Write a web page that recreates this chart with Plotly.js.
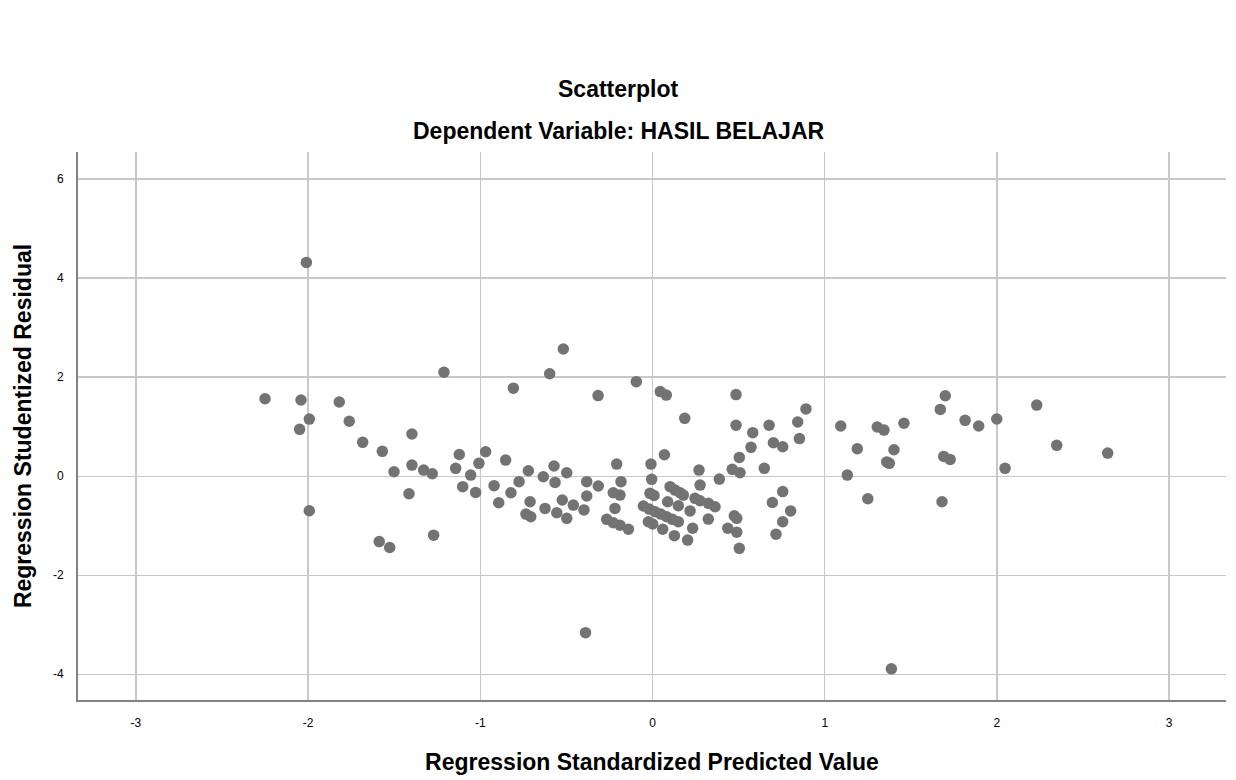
<!DOCTYPE html>
<html>
<head>
<meta charset="utf-8">
<script src="https://cdn.plot.ly/plotly-3.0.1.min.js"></script>
<style>html,body{margin:0;padding:0;background:#fff;}#chart{width:1236px;height:780px;}</style>
</head>
<body>
<div id="chart"></div>
<script>
// Regression Standardized Predicted Value (x) and Regression Studentized Residual (y)
const predicted = [
  -2.250, -2.041, -2.010, -1.993, -2.049, -1.993, -1.819, -1.761, -1.683, -1.587,
  -1.569, -1.526, -1.501, -1.414, -1.397, -1.397, -1.329, -1.279, -1.271, -1.211,
  -1.143, -1.122, -1.102, -1.056, -1.027, -1.008, -0.969, -0.920, -0.893, -0.853,
  -0.822, -0.808, -0.775, -0.735, -0.721, -0.707, -0.711, -0.634, -0.624, -0.597,
  -0.572, -0.566, -0.556, -0.524, -0.518, -0.498, -0.498, -0.460, -0.398, -0.389,
  -0.382, -0.382, -0.316, -0.315, -0.266, -0.228, -0.218, -0.208, -0.189, -0.189,
  -0.228, -0.183, -0.140, -0.094,
  -0.009, -0.005, -0.015, 0.009, -0.053, -0.019, 0.015, 0.048, 0.082, 0.115,
  0.150, -0.024, 0.001, 0.059, 0.127, 0.204, 0.233, 0.045, 0.080, 0.069,
  0.102, 0.131, 0.160, 0.179, 0.088, 0.150, 0.218, 0.247, 0.276, 0.324,
  0.363, 0.324, 0.187, 0.270, 0.276, 0.388,
  0.485, 0.485, 0.504, 0.463, 0.508, 0.475, 0.489, 0.437, 0.489, 0.504,
  0.572, 0.582, 0.649, 0.677, 0.702, 0.756, 0.756, 0.696, 0.802, 0.756,
  0.717, 0.843, 0.891, 0.853,
  1.093, 1.131, 1.189, 1.250, 1.305, 1.344, 1.360, 1.375, 1.387, 1.402,
  1.460, 1.671, 1.681, 1.691, 1.700, 1.728, 1.815, 1.894, 1.999, 2.047,
  2.231, 2.347, 2.643
];
const residual = [
  1.566, 1.540, 4.320, 1.155, 0.947, -0.697, 1.500, 1.110, 0.685, -1.320,
  0.503, -1.440, 0.090, -0.354, 0.853, 0.226, 0.125, 0.050, -1.190, 2.100,
  0.160, 0.440, -0.210, 0.024, -0.326, 0.260, 0.495, -0.190, -0.535, 0.327,
  -0.333, 1.780, -0.110, -0.764, 0.110, -0.818, -0.515, -0.010, -0.650, 2.070,
  0.206, -0.124, -0.737, -0.480, 2.570, 0.070, -0.850, -0.582, -0.680, -3.160,
  -0.110, -0.400, 1.630, -0.198, -0.870, -0.940, -0.650, 0.246, -0.990, -0.380,
  -0.333, -0.110, -1.070, 1.910,
  0.246, -0.063, -0.345, -0.390, -0.600, -0.663, -0.717, -0.764, -0.818, -0.871,
  -0.919, -0.920, -0.965, -1.070, -1.200, -1.290, -1.050, 1.710, 1.640, 0.435,
  -0.210, -0.280, -0.333, -0.380, -0.515, -0.595, -0.700, -0.447, -0.495, -0.548,
  -0.616, -0.865, 1.170, 0.125, -0.178, -0.057,
  1.650, 1.030, 0.380, 0.140, 0.070, -0.800, -0.850, -1.050, -1.130, -1.457,
  0.584, 0.880, 0.160, 1.030, 0.677, 0.596, -0.310, -0.530, -0.700, -0.920,
  -1.170, 1.095, 1.360, 0.760,
  1.014, 0.024, 0.556, -0.455, 0.994, 0.933, 0.290, 0.260, -3.890, 0.536,
  1.070, 1.350, -0.515, 0.400, 1.626, 0.340, 1.130, 1.014, 1.156, 0.160,
  1.438, 0.624, 0.468
];
const xTicks = [-3, -2, -1, 0, 1, 2, 3];
const yTicks = [-4, -2, 0, 2, 4, 6];
const chartTitle = 'Scatterplot';
const chartSubtitle = 'Dependent Variable: HASIL BELAJAR';
const xTitle = 'Regression Standardized Predicted Value';
const yTitle = 'Regression Studentized Residual';

const FONT = 'Arial, "Liberation Sans", sans-serif';

const trace = {
  type: 'scatter',
  mode: 'markers',
  x: predicted,
  y: residual,
  marker: {size: 11.5, color: 'rgb(115,115,115)', line: {width: 0}},
  hoverinfo: 'x+y',
  showlegend: false
};

const layout = {
  width: 1236,
  height: 780,
  paper_bgcolor: '#ffffff',
  plot_bgcolor: '#ffffff',
  margin: {l: 78, r: 10, t: 152, b: 80},
  font: {family: FONT, color: '#000000'},
  xaxis: {
    range: [-3.336, 3.330],
    tickvals: xTicks,
    ticktext: xTicks.map(String),
    showgrid: true,
    gridcolor: 'rgb(200,200,200)',
    gridwidth: 1.5,
    zeroline: false,
    showline: true,
    linecolor: 'rgb(130,130,130)',
    linewidth: 2,
    ticks: '',
    ticklabelstandoff: 11,
    tickfont: {family: FONT, size: 12, color: '#000000'},
    title: {text: xTitle, font: {family: FONT, size: 23, color: '#000000', weight: 'bold'}, standoff: 24}
  },
  yaxis: {
    range: [-4.52, 6.55],
    tickvals: yTicks,
    ticktext: yTicks.map(String),
    showgrid: true,
    gridcolor: 'rgb(200,200,200)',
    gridwidth: 1.5,
    zeroline: false,
    showline: true,
    linecolor: 'rgb(130,130,130)',
    linewidth: 2,
    ticks: '',
    ticklabelstandoff: 10,
    tickfont: {family: FONT, size: 12, color: '#000000'},
    title: {text: yTitle, font: {family: FONT, size: 23, color: '#000000', weight: 'bold'}, standoff: 15}
  },
  annotations: [
    {text: chartTitle, xref: 'paper', yref: 'paper', x: 0.4704, y: 1.1150, xanchor: 'center', yanchor: 'middle', showarrow: false,
     font: {family: FONT, size: 23, color: '#000000', weight: 'bold'}},
    {text: chartSubtitle, xref: 'paper', yref: 'paper', x: 0.4704, y: 1.0383, xanchor: 'center', yanchor: 'middle', showarrow: false,
     font: {family: FONT, size: 23, color: '#000000', weight: 'bold'}}
  ]
};

Plotly.newPlot('chart', [trace], layout, {displayModeBar: false, staticPlot: true});
</script>
</body>
</html>
